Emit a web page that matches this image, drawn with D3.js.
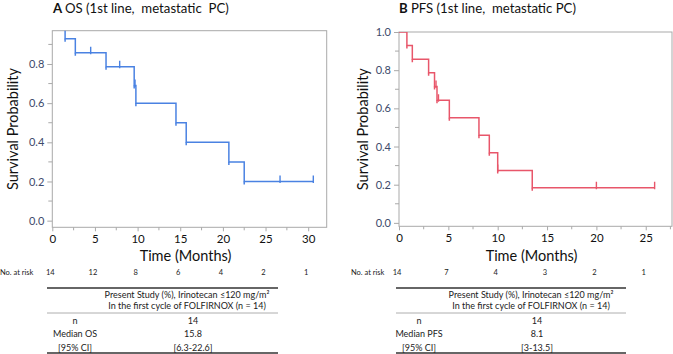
<!DOCTYPE html>
<html>
<head>
<meta charset="utf-8">
<script src="https://cdn.jsdelivr.net/npm/d3@7"></script>
<style>
html,body{margin:0;padding:0;background:#fff;}
svg{display:block;font-family:Lato,"Open Sans",sans-serif;}
.title{white-space:pre;}
</style>
</head>
<body>
<svg id="chart" width="673" height="354"></svg>
<script>
// ---- Data ----
const osEventTimes = [1.5, 2.7, 6.3, 9.6, 9.8, 14.5, 15.7, 20.7, 22.5];
const osSurv = [0.929, 0.857, 0.786, 0.69, 0.60, 0.50, 0.40, 0.30, 0.20];
const osCensorTimes = [4.5, 7.9, 9.7, 26.7, 30.6];
const osRiskTimes = [0, 5, 10, 15, 20, 25, 30];
const osRisk = [14, 12, 8, 6, 4, 2, 1];

const pfsEventTimes = [0.8, 1.35, 3.0, 3.6, 3.85, 5.1, 8.1, 9.15, 10.0, 13.5];
const pfsSurv = [0.929, 0.857, 0.786, 0.714, 0.643, 0.551, 0.459, 0.367, 0.275, 0.184];
const pfsCensorTimes = [3.75, 4.0, 10.0, 20.0, 25.9];
const pfsRiskTimes = [0, 5, 10, 15, 20, 25];
const pfsRisk = [14, 7, 4, 3, 2, 1];

const xTicksOS = [0, 5, 10, 15, 20, 25, 30];
const xTicksPFS = [0, 5, 10, 15, 20, 25];
const yTicksOS = [0, 0.2, 0.4, 0.6, 0.8];
const yTicksPFS = [0, 0.2, 0.4, 0.6, 0.8, 1.0];

const tableHeader = ["Present Study (%), Irinotecan \u2264120 mg/m\u00b2", "In the first cycle of FOLFIRNOX (n = 14)"];
const osTableLabels = ["n", "Median OS", "[95% CI]"];
const osTableValues = ["14", "15.8", "[6.3-22.6]"];
const pfsTableLabels = ["n", "Median PFS", "[95% CI]"];
const pfsTableValues = ["14", "8.1", "[3-13.5]"];

const svg = d3.select("#chart");

function panel(cfg) {
  const g = svg.append("g");
  const x = d3.scaleLinear().domain(cfg.xDomain).range([cfg.left, cfg.right]);
  const y = d3.scaleLinear().domain(cfg.yDomain).range([cfg.bottom, cfg.top]);

  // title
  const t = g.append("text").attr("class", "title").attr("x", cfg.titleX).attr("y", 12.5)
    .attr("font-size", 13.2).attr("fill", "#111");
  t.append("tspan").attr("font-weight", "bold").text(cfg.letter + " ");
  t.append("tspan").text(cfg.title);

  // frame
  g.append("rect").attr("x", cfg.left).attr("y", cfg.top)
    .attr("width", cfg.right - cfg.left).attr("height", cfg.bottom - cfg.top)
    .attr("fill", "none").attr("stroke", "#a9a9a9").attr("stroke-width", 1);

  // y axis
  const yAxis = d3.axisLeft(y).tickValues(cfg.yTicks).tickFormat(d3.format(".1f")).tickSize(5).tickPadding(3);
  const ya = g.append("g").attr("transform", `translate(${cfg.left},0)`).call(yAxis);
  ya.select(".domain").remove();
  ya.selectAll("line").attr("stroke", "#a9a9a9");
  ya.selectAll("text").attr("font-size", 11).attr("fill", "#3d4a6b").attr("font-family", "Lato, sans-serif");
  const yMinor = d3.range(0.1, cfg.yDomain[1], 0.2);
  g.selectAll(".yminor").data(yMinor).enter().append("line")
    .attr("x1", cfg.left - 4).attr("x2", cfg.left).attr("y1", d => y(d)).attr("y2", d => y(d))
    .attr("stroke", "#a9a9a9");

  // x axis
  const xAxis = d3.axisBottom(x).tickValues(cfg.xTicks).tickSize(4).tickPadding(4);
  const xa = g.append("g").attr("transform", `translate(0,${cfg.bottom})`).call(xAxis);
  xa.select(".domain").remove();
  xa.selectAll("line").attr("stroke", "#a9a9a9");
  xa.selectAll("text").attr("font-size", 11.5).attr("fill", "#111").attr("font-family", "Lato, sans-serif");
  const xMinor = cfg.xTicks.map(d => d + 2.5).filter(d => d < cfg.xDomain[1]);
  g.selectAll(".xminor").data(xMinor).enter().append("line")
    .attr("x1", d => x(d)).attr("x2", d => x(d)).attr("y1", cfg.bottom).attr("y2", cfg.bottom + 3)
    .attr("stroke", "#a9a9a9");

  // axis titles
  g.append("text").attr("x", (cfg.left + cfg.right) / 2 - 4).attr("y", 261)
    .attr("text-anchor", "middle").attr("font-size", 14.5).attr("fill", "#111").text("Time (Months)");
  g.append("text").attr("transform", `translate(${cfg.yLabelX},${(cfg.top + cfg.bottom) / 2}) rotate(-90)`)
    .attr("text-anchor", "middle").attr("dominant-baseline", "middle")
    .attr("font-size", 14.5).attr("fill", "#111").text("Survival Probability");

  // KM curve
  const clipId = "clip" + cfg.letter;
  svg.append("clipPath").attr("id", clipId).append("rect")
    .attr("x", cfg.left).attr("y", cfg.top).attr("width", cfg.right - cfg.left + 2).attr("height", cfg.bottom - cfg.top);
  const cg = g.append("g").attr("clip-path", `url(#${clipId})`);
  const endT = d3.max(cfg.censor);
  const pts = [[0, 1]];
  cfg.events.forEach((tt, i) => pts.push([tt, cfg.surv[i]]));
  pts.push([endT, cfg.surv[cfg.surv.length - 1]]);
  const line = d3.line().x(d => x(d[0])).y(d => y(d[1])).curve(d3.curveStepAfter);
  cg.append("path").datum(pts).attr("d", line).attr("fill", "none")
    .attr("stroke", cfg.color).attr("stroke-width", 1.5);
  // small overshoot at drops
  cg.selectAll(".drop").data(cfg.events.map((tt, i) => [tt, cfg.surv[i]])).enter().append("line")
    .attr("x1", d => x(d[0])).attr("x2", d => x(d[0]))
    .attr("y1", d => y(d[1])).attr("y2", d => y(d[1]) + 3)
    .attr("stroke", cfg.color).attr("stroke-width", 1.5);
  // censor ticks
  const survAt = tt => {
    let s = 1;
    cfg.events.forEach((e, i) => { if (e <= tt) s = cfg.surv[i]; });
    return s;
  };
  cg.selectAll(".cens").data(cfg.censor).enter().append("line")
    .attr("x1", d => x(d)).attr("x2", d => x(d))
    .attr("y1", d => y(survAt(d)) - 6).attr("y2", d => y(survAt(d)) + 1.5)
    .attr("stroke", cfg.color).attr("stroke-width", 1.4);

  // number at risk
  g.append("text").attr("x", cfg.riskLabelX).attr("y", 275).attr("font-size", 7.5).attr("fill", "#222").text("No. at risk");
  g.selectAll(".risk").data(cfg.riskTimes).enter().append("text")
    .attr("x", d => x(d) - 2).attr("y", 275).attr("text-anchor", "middle")
    .attr("font-size", 7.5).attr("fill", "#222").text((d, i) => cfg.risk[i]);

  // table
  const tl = cfg.tableL, tr = cfg.tableR;
  g.append("line").attr("x1", tl).attr("x2", tr).attr("y1", 288).attr("y2", 288).attr("stroke", "#333").attr("stroke-width", 1.3);
  g.append("line").attr("x1", tl).attr("x2", tr).attr("y1", 313).attr("y2", 313).attr("stroke", "#999").attr("stroke-width", 0.8);
  g.append("line").attr("x1", tl).attr("x2", tr).attr("y1", 353).attr("y2", 353).attr("stroke", "#333").attr("stroke-width", 1.3);
  tableHeader.forEach((h, i) => {
    g.append("text").attr("x", cfg.valX).attr("y", 298 + i * 11).attr("text-anchor", "middle")
      .attr("font-size", 9).attr("fill", "#222").text(h);
  });
  cfg.tLabels.forEach((lab, i) => {
    g.append("text").attr("x", cfg.labX).attr("y", 323.5 + i * 13.5).attr("text-anchor", "middle")
      .attr("font-size", 9).attr("fill", "#222").text(lab);
    g.append("text").attr("x", cfg.valX + 6).attr("y", 323.5 + i * 13.5).attr("text-anchor", "middle")
      .attr("font-size", 9).attr("fill", "#222").text(cfg.tValues[i]);
  });
}

panel({
  letter: "A", title: "OS (1st line,  metastatic  PC)", titleX: 53,
  left: 52.3, right: 326.7, top: 30.7, bottom: 227.3,
  xDomain: [0, 32.17], yDomain: [-0.034, 0.97],
  xTicks: xTicksOS, yTicks: yTicksOS, yLabelX: 14,
  events: osEventTimes, surv: osSurv, censor: osCensorTimes, color: "#4a82e2",
  riskTimes: osRiskTimes, risk: osRisk, riskLabelX: 0,
  tableL: 47, tableR: 278, labX: 75, valX: 187,
  tLabels: osTableLabels, tValues: osTableValues
});
panel({
  letter: "B", title: "PFS (1st line,  metastatic PC)", titleX: 399,
  left: 399, right: 672, top: 32, bottom: 226.3,
  xDomain: [0, 27.66], yDomain: [-0.018, 1.0],
  xTicks: xTicksPFS, yTicks: yTicksPFS, yLabelX: 364,
  events: pfsEventTimes, surv: pfsSurv, censor: pfsCensorTimes, color: "#e8566a",
  riskTimes: pfsRiskTimes, risk: pfsRisk, riskLabelX: 351,
  tableL: 396, tableR: 626, labX: 419, valX: 531,
  tLabels: pfsTableLabels, tValues: pfsTableValues
});
</script>
</body>
</html>
